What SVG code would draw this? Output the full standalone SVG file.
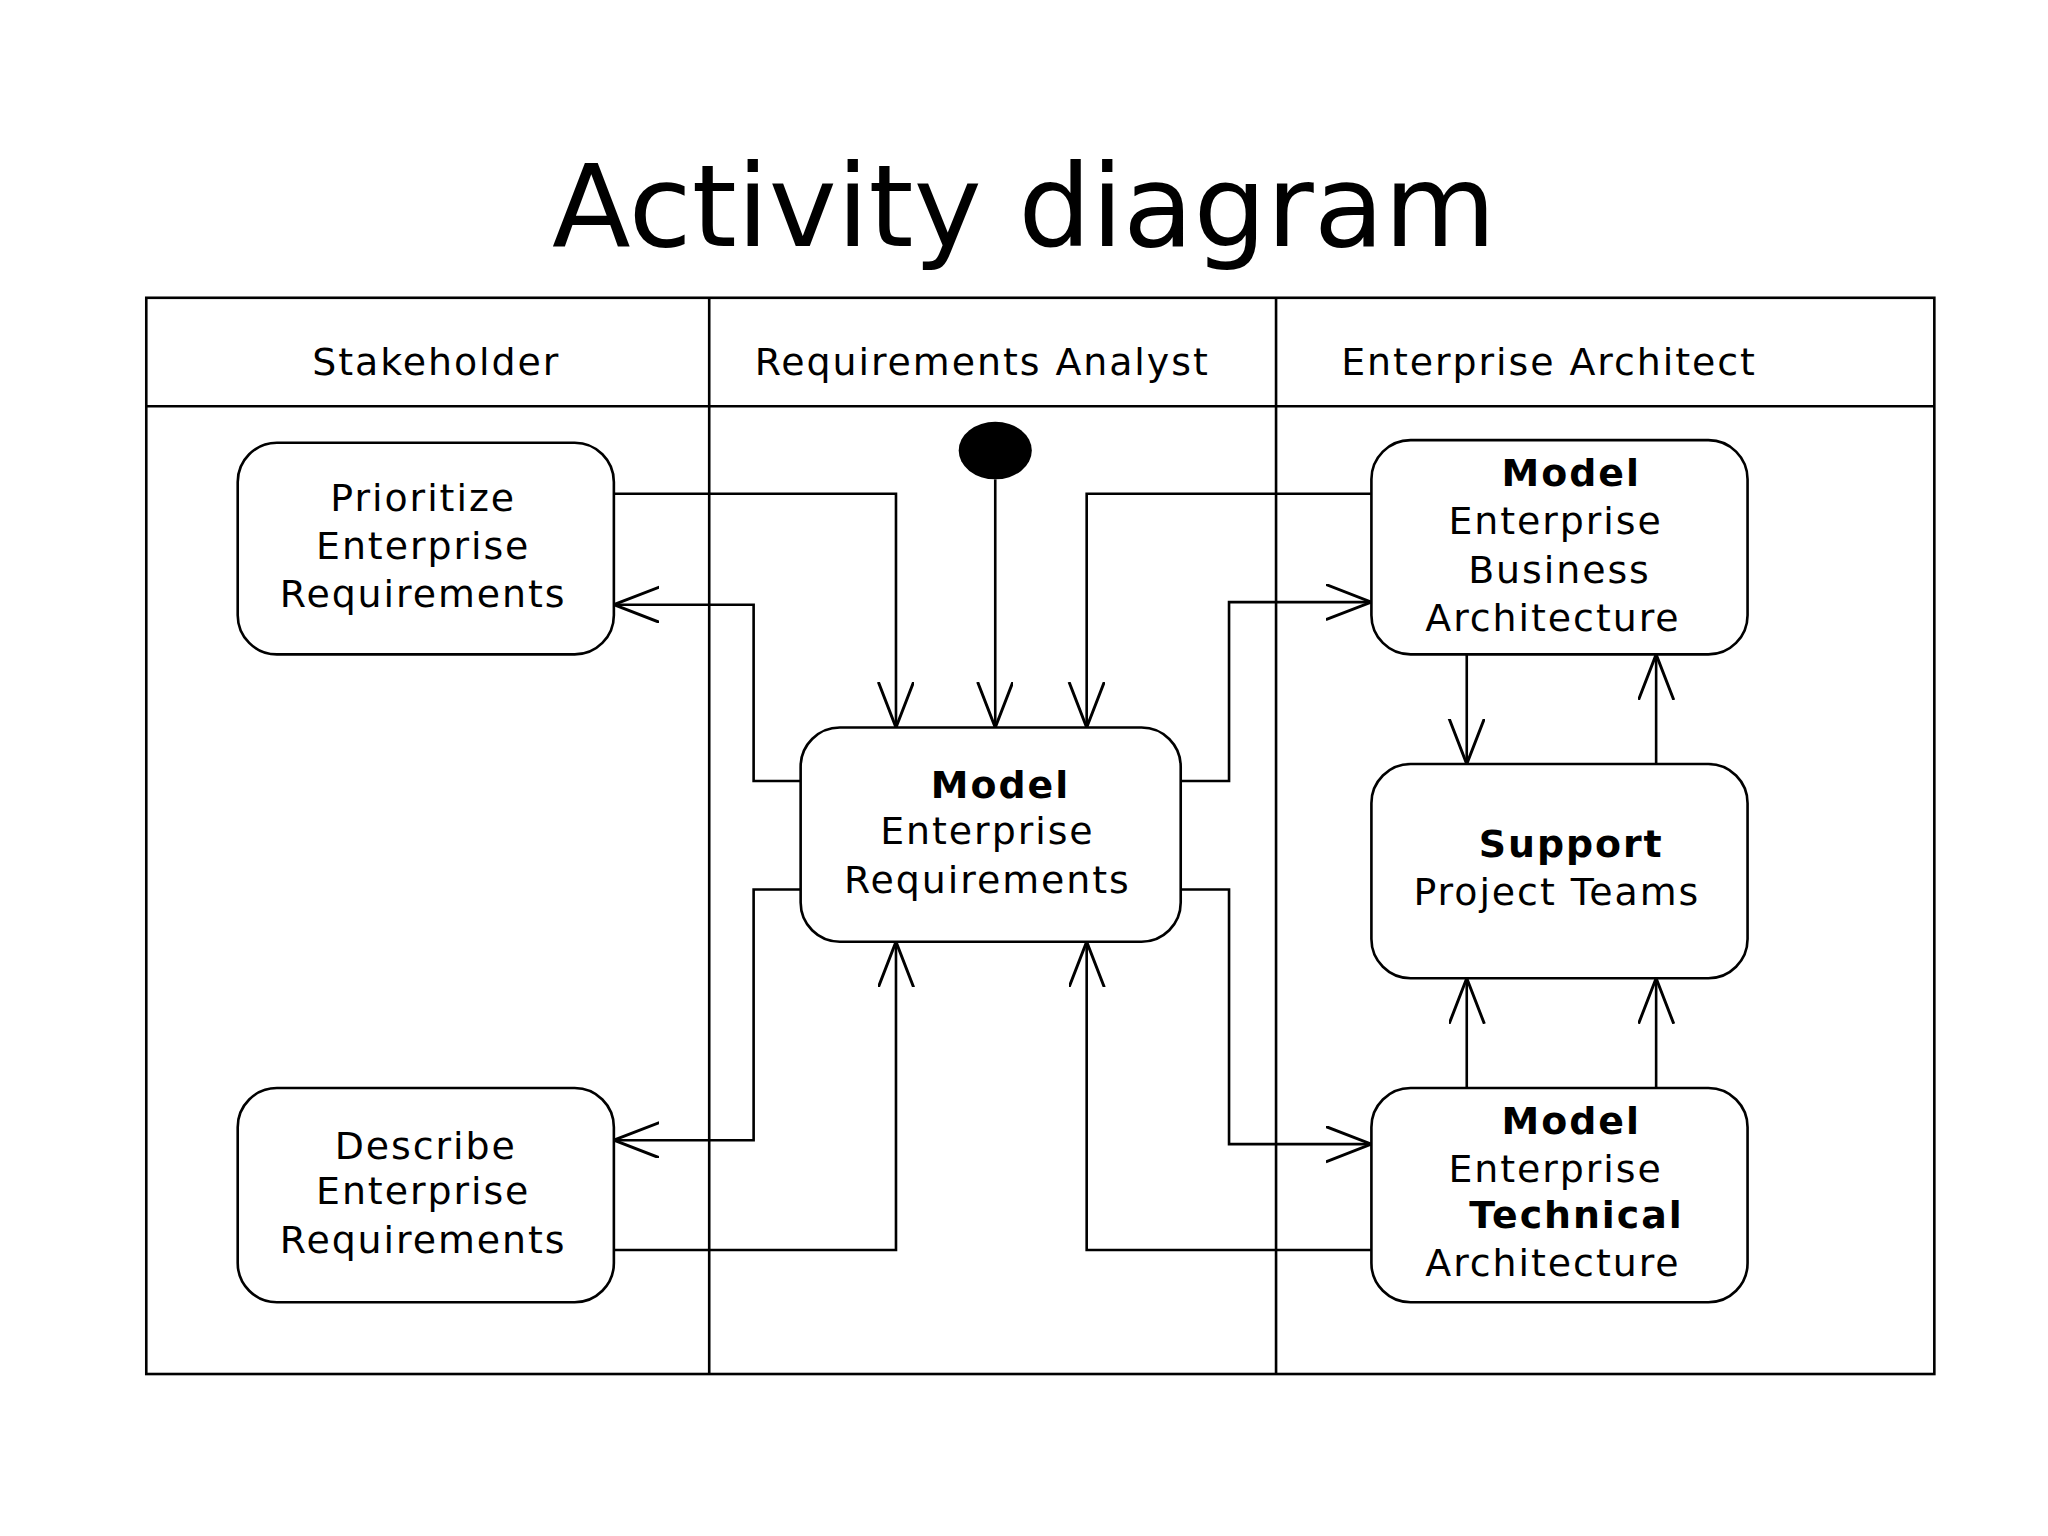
<svg xmlns="http://www.w3.org/2000/svg" width="2048" height="1536" viewBox="0 0 2048 1536">
<defs>
<style>
.ln{fill:none;stroke:#000;stroke-width:2}
.nd{fill:#fff;stroke:#000;stroke-width:2}
.t{font-family:"DejaVu Sans",sans-serif;font-size:29px;text-anchor:middle;fill:#000;letter-spacing:1.5px}
.b{font-weight:bold}
</style>
<marker id="a" markerUnits="userSpaceOnUse" markerWidth="36" markerHeight="30" viewBox="0 0 32 26" refX="31" refY="12" orient="auto"><path d="M0,0 L31,12 L0,24" fill="none" stroke="#000" stroke-width="2"/></marker>
</defs>
<rect width="2048" height="1536" fill="#fff"/>
<g transform="scale(1.3061)">
<text x="784" y="188" font-family="DejaVu Sans, sans-serif" font-size="88" text-anchor="middle">Activity diagram</text>
<g id="lanes">
<rect x="112" y="228" width="1369" height="824" class="ln"/>
<path d="M112 311H1481M543 228V1052M977 228V1052" class="ln"/>
<text class="t" x="334" y="287">Stakeholder</text>
<text class="t" x="752" y="287">Requirements Analyst</text>
<text class="t" x="1186" y="287">Enterprise Architect</text>
</g>
<g id="connectors" class="ln" marker-end="url(#a)">
<path d="M470 378H686V557"/>
<path d="M762 367V557"/>
<path d="M1050 378H832V557"/>
<path d="M613 598H577V463H470"/>
<path d="M613 681H577V873H470"/>
<path d="M470 957H686V721"/>
<path d="M1050 957H832V721"/>
<path d="M904 598H941V461H1050"/>
<path d="M904 681H941V876H1050"/>
<path d="M1123 501V585"/>
<path d="M1268 585V501"/>
<path d="M1123 833V749"/>
<path d="M1268 833V749"/>
</g>
<g id="start"><ellipse cx="762" cy="345" rx="28" ry="22"/></g>
<g id="prioritize"><rect x="182" y="339" width="288" height="162" rx="30" class="nd"/>
<text class="t" x="324" y="391">Prioritize</text><text class="t" x="324" y="428">Enterprise</text><text class="t" x="324" y="465">Requirements</text></g>
<g id="describe"><rect x="182" y="833" width="288" height="164" rx="30" class="nd"/>
<text class="t" x="326" y="887">Describe</text><text class="t" x="324" y="922">Enterprise</text><text class="t" x="324" y="959">Requirements</text></g>
<g id="modelReq"><rect x="613" y="557" width="291" height="164" rx="30" class="nd"/>
<text class="t b" x="766" y="611">Model</text><text class="t" x="756" y="646">Enterprise</text><text class="t" x="756" y="684">Requirements</text></g>
<g id="modelBus"><rect x="1050" y="337" width="288" height="164" rx="30" class="nd"/>
<text class="t b" x="1203" y="372">Model</text><text class="t" x="1191" y="409">Enterprise</text><text class="t" x="1194" y="446">Business</text><text class="t" x="1189" y="483">Architecture</text></g>
<g id="support"><rect x="1050" y="585" width="288" height="164" rx="30" class="nd"/>
<text class="t b" x="1203" y="656">Support</text><text class="t" x="1192" y="693">Project Teams</text></g>
<g id="modelTech"><rect x="1050" y="833" width="288" height="164" rx="30" class="nd"/>
<text class="t b" x="1203" y="868">Model</text><text class="t" x="1191" y="905">Enterprise</text><text class="t b" x="1207" y="940">Technical</text><text class="t" x="1189" y="977">Architecture</text></g>
</g>
</svg>
